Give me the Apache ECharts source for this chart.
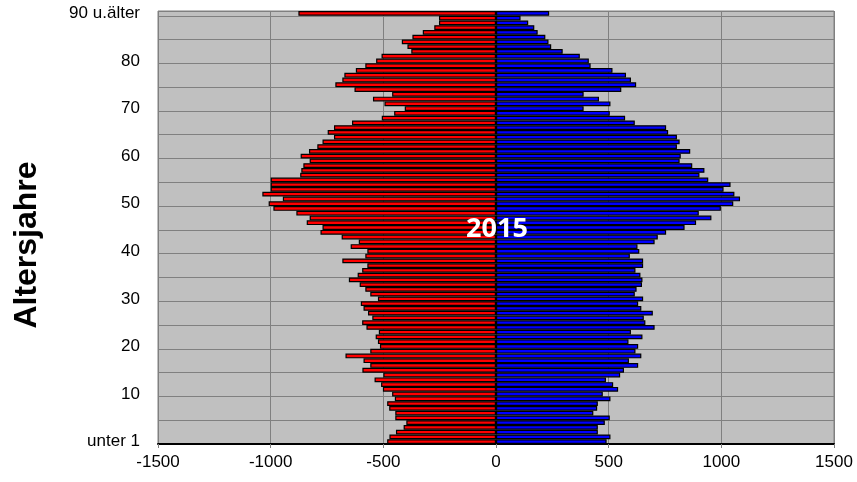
<!DOCTYPE html>
<html>
<head>
<meta charset="utf-8">
<script src="https://cdn.jsdelivr.net/npm/echarts@6/dist/echarts.min.js"></script>
<style>
  html, body { margin: 0; padding: 0; background: #fff; }
  #chart { width: 857px; height: 482px; }
</style>
</head>
<body>
<div id="chart"></div>
<script>
// Altersjahre, von unten (unter 1) nach oben (90 u.älter)
let ages = ['unter 1', '1', '2', '3', '4', '5', '6', '7', '8', '9',
  '10', '11', '12', '13', '14', '15', '16', '17', '18', '19',
  '20', '21', '22', '23', '24', '25', '26', '27', '28', '29',
  '30', '31', '32', '33', '34', '35', '36', '37', '38', '39',
  '40', '41', '42', '43', '44', '45', '46', '47', '48', '49',
  '50', '51', '52', '53', '54', '55', '56', '57', '58', '59',
  '60', '61', '62', '63', '64', '65', '66', '67', '68', '69',
  '70', '71', '72', '73', '74', '75', '76', '77', '78', '79',
  '80', '81', '82', '83', '84', '85', '86', '87', '88', '89',
  '90 u.älter'];

// linke Seite (rot), negative Werte
let frauen = [-483, -473, -444, -410, -398, -447, -447, -474, -483, -449,
  -461, -502, -510, -539, -500, -593, -558, -588, -668, -558,
  -515, -524, -534, -520, -575, -594, -549, -568, -588, -600,
  -524, -558, -580, -605, -653, -614, -594, -571, -682, -580,
  -571, -645, -609, -685, -779, -770, -840, -827, -886, -988,
  -1009, -946, -1037, -1000, -1000, -1000, -869, -864, -855, -827,
  -867, -830, -793, -770, -719, -747, -719, -639, -507, -452,
  -405, -495, -546, -461, -628, -713, -682, -673, -622, -580,
  -532, -508, -376, -393, -418, -371, -325, -274, -253, -253,
  -877];

// rechte Seite (blau)
let maenner = [491, 508, 452, 452, 483, 505, 432, 449, 452, 508,
  474, 542, 520, 488, 551, 568, 631, 590, 645, 619,
  631, 588, 650, 599, 704, 663, 656, 696, 645, 631,
  653, 616, 624, 648, 650, 641, 619, 653, 653, 594,
  636, 628, 704, 718, 755, 837, 888, 956, 900, 998,
  1053, 1083, 1058, 1010, 1041, 942, 903, 925, 871, 815,
  820, 862, 803, 815, 803, 764, 755, 616, 573, 505,
  389, 508, 457, 389, 556, 622, 599, 577, 517, 420,
  412, 372, 296, 245, 233, 219, 185, 170, 143, 109,
  236];

let year = '2015';
let axisTitle = 'Altersjahre';

let myChart = echarts.init(document.getElementById('chart'));
myChart.setOption({
  animation: false,
  grid: {
    left: 158, right: 23, top: 11, bottom: 38,
    show: true,
    backgroundColor: '#c0c0c0',
    borderColor: '#808080',
    borderWidth: 1
  },
  xAxis: {
    type: 'value',
    min: -1500,
    max: 1500,
    interval: 500,
    axisLine: { show: true, onZero: false, lineStyle: { color: '#000', width: 2 } },
    axisTick: { show: true, length: 4, lineStyle: { color: '#808080' } },
    axisLabel: {
      formatter: function (v) { return String(v); },
      color: '#000',
      fontSize: 17,
      fontFamily: 'Liberation Sans',
      margin: 10
    },
    splitLine: { show: true, lineStyle: { color: '#808080', width: 1 } }
  },
  yAxis: {
    type: 'category',
    data: ages,
    boundaryGap: true,
    axisLine: { show: false },
    axisTick: { show: false },
    axisLabel: {
      interval: 9,
      color: '#000',
      fontSize: 17,
      fontFamily: 'Liberation Sans',
      margin: 18
    },
    splitLine: { show: true, interval: 4, lineStyle: { color: '#808080', width: 1 } }
  },
  graphic: [{
    type: 'text',
    x: 497,
    y: 229,
    z: 100,
    style: {
      text: year,
      fill: '#fff',
      font: 'bold 27px "Open Sans"',
      align: 'center',
      verticalAlign: 'middle'
    }
  }, {
    type: 'text',
    x: 27,
    y: 245,
    rotation: Math.PI / 2,
    style: {
      text: axisTitle,
      fill: '#000',
      font: 'bold 32px "Liberation Sans"',
      align: 'center',
      verticalAlign: 'middle'
    }
  }],
  series: [{
    name: 'Frauen',
    type: 'bar',
    stack: 'pyramide',
    data: frauen,
    barCategoryGap: '0%',
    itemStyle: { color: '#ff0000', borderColor: '#000', borderWidth: 1.2 }
  }, {
    name: 'Männer',
    type: 'bar',
    stack: 'pyramide',
    data: maenner,
    barCategoryGap: '0%',
    itemStyle: { color: '#0000ff', borderColor: '#000', borderWidth: 1.2 }
  }]
});
</script>
</body>
</html>
